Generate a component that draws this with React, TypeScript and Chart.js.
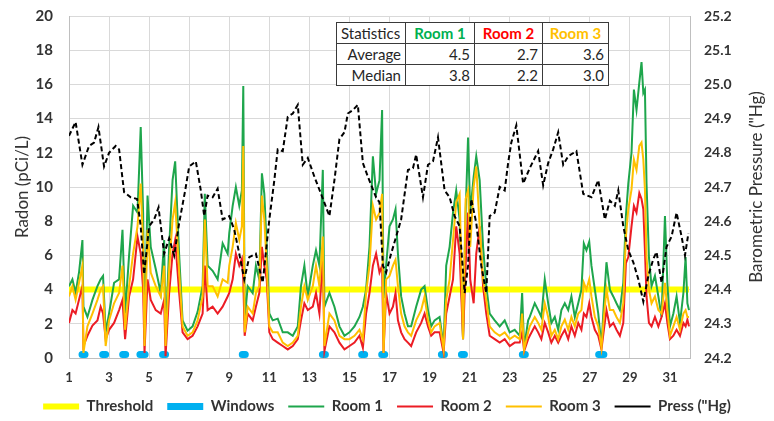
import React, { useEffect, useRef } from 'react';
import { Chart, registerables } from 'chart.js';

Chart.register(...registerables);

// ---------- data ----------
const xTicks = [1, 3, 5, 7, 9, 11, 13, 15, 17, 19, 21, 23, 25, 27, 29, 31];
const radonTicks = [0, 2, 4, 6, 8, 10, 12, 14, 16, 18, 20];
const pressTicks = [24.2, 24.3, 24.4, 24.5, 24.6, 24.7, 24.8, 24.9, 25.0, 25.1, 25.2];

const roomDays = [
  1.0, 1.17, 1.33, 1.5, 1.67, 1.72, 1.92, 2.17, 2.42, 2.58, 2.7, 2.83, 3.0, 3.25, 3.5, 3.67, 3.8, 4.0, 4.2, 4.42,
  4.58, 4.7, 4.77, 4.92, 5.08, 5.33, 5.58, 5.75, 5.82, 6.0, 6.17, 6.3, 6.5, 6.67, 6.92, 7.17, 7.42, 7.67, 7.78, 7.92,
  8.17, 8.42, 8.67, 8.92,
  9.0, 9.17, 9.33, 9.5, 9.63, 9.7, 9.77, 9.92, 10.17, 10.33, 10.5, 10.63, 10.75, 10.87, 11.0, 11.17, 11.42, 11.67,
  11.92, 12.17, 12.42, 12.58, 12.75, 12.92, 13.17, 13.33, 13.5, 13.67, 13.75, 14.0, 14.25, 14.5, 14.75, 15.0, 15.25,
  15.5, 15.67, 15.83, 16.0, 16.17, 16.33, 16.5, 16.63,
  16.7, 16.83, 17.0, 17.17, 17.3, 17.42, 17.58, 17.75, 17.92, 18.08, 18.33, 18.58, 18.75, 18.92, 19.08, 19.25, 19.5,
  19.7, 19.83, 20.0, 20.17, 20.33, 20.5, 20.67, 20.8, 20.92, 21.03, 21.2, 21.33, 21.5, 21.67, 21.83, 22.0, 22.25,
  22.5, 22.75, 23.0, 23.25, 23.5, 23.62, 23.72, 23.92,
  24.0, 24.25, 24.42, 24.58, 24.75, 24.92, 25.08, 25.25, 25.42, 25.58, 25.75, 25.92, 26.08, 26.25, 26.42, 26.58,
  26.7, 26.83, 26.97, 27.08, 27.25, 27.42, 27.58, 27.7, 27.83, 28.0, 28.17, 28.33, 28.5, 28.67, 28.8, 28.92, 29.08,
  29.2, 29.33, 29.47, 29.58, 29.67, 29.75, 29.83, 29.95, 30.08, 30.25, 30.42, 30.58, 30.75, 30.87, 31.0, 31.17,
  31.33, 31.5, 31.67, 31.78, 31.87, 31.95,
];

const room1 = [
  4.2, 4.6, 3.8, 5.0, 6.9, 3.0, 2.4, 3.4, 4.2, 4.6, 4.8, 1.5, 2.6, 4.4, 4.6, 7.5, 2.6, 6.0, 8.9, 8.5,
  13.5, 8.5, 1.1, 9.5, 6.5, 5.2, 3.8, 6.9, 1.1, 6.5, 10.4, 11.5, 6.0, 2.2, 1.6, 1.85, 2.7, 4.2, 9.6, 5.4,
  5.1, 4.6, 6.7, 6.1,
  7.3, 8.9, 10.0, 8.9, 9.8, 15.9, 2.2, 4.2, 3.8, 5.4, 4.6, 10.8, 9.6, 6.5, 2.6, 2.2, 2.3, 1.5,
  1.5, 1.3, 1.85, 4.2, 5.4, 3.6, 5.4, 6.3, 5.4, 11.0, 3.0, 3.8, 3.0, 1.85, 1.3, 1.5, 1.85,
  2.4, 3.0, 4.0, 6.5, 11.8, 9.6, 10.4, 14.5,
  3.5, 5.4, 7.7, 8.1, 8.7, 6.1, 3.6, 2.6, 1.85, 1.85, 3.0, 4.0, 4.2, 2.8, 1.85, 2.2, 2.4,
  0.7, 5.4, 6.5, 8.5, 9.8, 8.1, 1.1, 8.5, 12.9, 8.5, 10.6, 11.8, 10.4, 6.5, 4.2, 2.6, 2.2,
  1.85, 2.2, 1.5, 1.65, 1.3, 3.8, 0.6, 2.2,
  2.4, 3.2, 2.8, 2.4, 4.6, 3.2, 2.05, 2.4, 1.65, 2.8, 3.2, 2.8, 3.6, 2.4, 3.2, 4.0,
  6.7, 6.3, 6.8, 5.4, 4.0, 2.6, 0.7, 3.2, 5.6, 4.0, 3.6, 3.2, 2.8, 4.4, 8.3, 10.2, 12.0,
  15.7, 14.5, 16.1, 17.3, 15.5, 15.7, 10.2, 5.9, 4.2, 4.8, 3.6, 2.4, 8.3, 4.4, 1.85, 2.6,
  3.6, 2.05, 3.8, 5.9, 3.2, 2.8,
];

const room2 = [
  2.05, 2.8, 2.6, 3.4, 4.2, 0.7, 1.3, 1.9, 2.2, 3.0, 2.6, 1.1, 1.65, 2.05, 2.8, 3.4, 1.1, 3.6, 4.6, 7.1,
  6.1, 4.0, 0.3, 4.6, 3.4, 2.8, 2.6, 3.4, 0.1, 3.8, 6.1, 6.9, 3.8, 1.5, 1.1, 1.3, 1.85, 2.6, 5.4, 2.8,
  3.0, 2.6, 3.0, 3.6,
  3.8, 4.6, 6.1, 5.4, 5.8, 4.6, 1.3, 2.6, 2.2, 3.0, 3.8, 6.5, 5.4, 4.6, 1.5, 1.1, 0.9, 0.7,
  0.5, 0.7, 1.1, 2.2, 3.2, 2.8, 3.0, 3.8, 2.6, 6.1, 0.4, 1.85, 1.5, 0.9, 0.5, 0.7, 0.9,
  1.3, 0.6, 2.6, 3.8, 5.4, 6.1, 5.0, 5.4,
  0.3, 3.8, 2.6, 3.0, 3.8, 2.2, 1.5, 1.1, 0.9, 0.7, 1.5, 2.05, 2.6, 1.85, 1.3, 1.5, 1.5,
  0.3, 2.6, 3.6, 4.6, 7.7, 6.1, 1.1, 5.4, 8.5, 4.6, 3.2, 6.1, 7.7, 4.2, 2.6, 1.3, 1.1,
  0.9, 1.1, 0.7, 0.9, 0.9, 1.5, 0.4, 1.1,
  1.3, 1.85, 1.5, 1.1, 2.05, 1.5, 0.9, 1.3, 0.9, 1.3, 1.65, 1.1, 1.85, 1.3, 2.05, 1.65,
  2.6, 2.4, 3.2, 2.4, 1.65, 1.3, 0.5, 1.65, 2.8, 1.85, 2.05, 1.65, 1.3, 2.05, 5.55, 5.9, 7.7,
  8.9, 8.5, 9.65, 9.3, 8.7, 6.3, 3.6, 2.05, 1.85, 2.4, 1.85, 2.4, 3.2, 2.05, 1.1, 1.3,
  1.65, 1.3, 2.05, 1.85, 2.25, 1.85,
];

const room3 = [
  3.6, 4.2, 3.4, 4.4, 5.4, 0.3, 1.85, 2.6, 3.4, 4.0, 4.2, 0.7, 2.2, 3.2, 3.8, 5.4, 1.65, 4.2, 6.1, 7.7,
  10.2, 6.5, 0.7, 7.5, 5.0, 4.2, 3.6, 5.4, 0.7, 5.2, 8.1, 9.1, 5.0, 1.85, 1.3, 1.5, 2.2, 3.6, 8.1, 4.2,
  4.2, 3.6, 4.6, 4.4,
  5.4, 6.5, 7.9, 6.9, 7.7, 12.4, 1.5, 3.0, 2.6, 3.8, 4.2, 9.5, 8.1, 5.4, 1.85, 1.5, 1.5, 0.9,
  0.7, 0.9, 1.3, 3.0, 4.2, 3.4, 4.2, 5.4, 4.2, 7.1, 0.7, 2.6, 2.2, 1.3, 1.1, 1.1, 1.3,
  1.65, 1.1, 3.8, 5.4, 8.9, 8.1, 8.5, 9.6,
  0.3, 4.6, 4.8, 5.4, 5.75, 4.2, 2.6, 1.85, 1.5, 1.3, 2.2, 2.8, 3.6, 2.2, 1.5, 1.85, 2.05,
  0.5, 3.4, 4.6, 6.9, 9.1, 9.6, 1.1, 9.3, 9.8, 6.5, 10.0, 11.2, 7.7, 4.6, 3.4, 1.85, 1.5,
  1.3, 1.5, 1.1, 1.3, 1.1, 2.6, 0.5, 1.5,
  1.85, 2.4, 2.05, 1.65, 3.2, 2.4, 1.3, 1.65, 1.1, 1.85, 2.25, 1.65, 2.4, 1.85, 2.6, 2.8,
  4.4, 4.0, 4.6, 3.6, 2.4, 1.85, 0.6, 2.4, 4.0, 2.8, 2.8, 2.4, 2.05, 3.2, 7.1, 8.7, 9.85,
  11.6, 11.0, 12.4, 12.6, 11.6, 9.85, 5.9, 4.0, 3.2, 3.6, 2.8, 2.6, 4.4, 2.8, 1.3, 1.85,
  2.4, 1.65, 2.6, 2.8, 2.4, 2.4,
];

const pressDays = [
  1.0, 1.33, 1.67, 2.0, 2.25, 2.47, 2.75, 3.0, 3.33, 3.5,
  3.75, 4.08, 4.4, 4.58, 4.75, 5.0, 5.25, 5.47, 5.75, 6.0,
  6.25, 6.5, 6.8, 7.0, 7.33, 7.58, 7.75, 7.92, 8.17, 8.42,
  8.67, 9.0, 9.25, 9.5, 9.75, 10.0, 10.33, 10.67, 11.0, 11.25,
  11.42, 11.67, 11.92, 12.17, 12.42, 12.67, 12.92, 13.25, 13.58, 14.0,
  14.25, 14.5, 14.75, 14.92, 15.17, 15.42, 15.67, 15.92, 16.33, 16.5,
  16.67, 16.83, 17.08, 17.33, 17.58, 17.92, 18.17, 18.33, 18.67, 18.92,
  19.17, 19.42, 19.75, 20.0, 20.25, 20.5, 20.75, 20.92, 21.08, 21.33,
  21.58, 21.83, 22.0, 22.25, 22.5, 22.75, 22.92, 23.08, 23.33, 23.67,
  24.0, 24.42, 24.67, 24.92, 25.17, 25.42, 25.67, 25.92, 26.33, 26.67,
  27.08, 27.42, 27.75, 28.0, 28.25, 28.42, 28.67, 28.92, 29.17, 29.42,
  29.67, 29.92, 30.17, 30.33, 30.58, 30.83, 31.08, 31.33, 31.58, 31.75,
  31.92,
];

const pressure = [
  24.85, 24.89, 24.765, 24.82, 24.83, 24.875, 24.76, 24.8, 24.82, 24.81,
  24.685, 24.67, 24.665, 24.585, 24.445, 24.585, 24.605, 24.64, 24.505, 24.55,
  24.5, 24.595, 24.69, 24.76, 24.775, 24.69, 24.615, 24.675, 24.67, 24.695,
  24.605, 24.615, 24.575, 24.505, 24.43, 24.495, 24.505, 24.42, 24.605, 24.72,
  24.81, 24.805, 24.905, 24.915, 24.94, 24.765, 24.785, 24.73, 24.68, 24.615,
  24.72, 24.84, 24.86, 24.915, 24.925, 24.94, 24.77, 24.73, 24.67, 24.655,
  24.47, 24.45, 24.505, 24.555, 24.605, 24.75, 24.755, 24.795, 24.67, 24.765,
  24.775, 24.845, 24.69, 24.67, 24.615, 24.585, 24.39, 24.47, 24.665, 24.595,
  24.47, 24.39, 24.615, 24.625, 24.7, 24.69, 24.77, 24.83, 24.88, 24.71,
  24.755, 24.805, 24.705, 24.77, 24.81, 24.86, 24.765, 24.79, 24.805, 24.68,
  24.67, 24.72, 24.605, 24.66, 24.645, 24.69, 24.585, 24.515, 24.48, 24.43,
  24.365, 24.44, 24.49, 24.51, 24.42, 24.525, 24.555, 24.625, 24.555, 24.5,
  24.565,
];

const thresholdDays = [1, 31.95];
const thresholdValues = [4, 4];

const windowStarts = [1.65, 2.68, 3.68, 4.54, 5.67, 9.65, 13.65, 15.61, 16.61, 19.59, 20.59, 23.63, 27.44];
const windowEnds = [1.8, 2.83, 3.83, 4.8, 5.82, 9.8, 13.8, 15.76, 16.76, 19.74, 20.74, 23.78, 27.7];
const windowLevel = 0.2;

const statHeaders = ['Statistics', 'Room 1', 'Room 2', 'Room 3'];
const statLabels = ['Average', 'Median'];
const room1Stats = [4.5, 3.8];
const room2Stats = [2.7, 2.2];
const room3Stats = [3.6, 3.0];

const leftTitle = 'Radon (pCi/L)';
const rightTitle = 'Barometric Pressure ("Hg)';

// ---------- styles ----------
const C_ROOM1 = '#1ea64c';
const C_ROOM2 = '#ec1c24';
const C_ROOM3 = '#ffc000';
const C_THRESH = '#ffff00';
const C_WIN = '#00b0f0';
const C_TEXT = '#333333';
const C_GRID = '#d9d9d9';
const FONT = 'Lato, "Open Sans", sans-serif';

const headerColors = ['#262626', '#00b050', '#ff0000', '#ffc000'];

export default function App() {
  const ref = useRef<HTMLCanvasElement | null>(null);

  useEffect(() => {
    document.body.style.margin = '0';
    const canvas = ref.current;
    if (!canvas) return;
    const xy = (xs: number[], ys: number[]) => xs.map((x, i) => ({ x, y: ys[i] }));
    const windowPoints: { x: number; y: number | null }[] = [];
    windowStarts.forEach((s, i) => {
      windowPoints.push({ x: s, y: windowLevel }, { x: windowEnds[i], y: windowLevel }, { x: windowEnds[i], y: null });
    });

    const rightTitlePlugin = {
      id: 'rightTitle',
      afterDraw(chart: any) {
        const { ctx, chartArea } = chart;
        const s = chart.scales.y1;
        ctx.save();
        ctx.translate(s.right - 13, (chartArea.top + chartArea.bottom) / 2);
        ctx.rotate(-Math.PI / 2);
        ctx.font = `17px ${FONT}`;
        ctx.fillStyle = C_TEXT;
        ctx.textAlign = 'center';
        ctx.textBaseline = 'middle';
        ctx.fillText(rightTitle, 0, 0);
        ctx.restore();
      },
    };

    Chart.defaults.font.family = FONT;

    const chart = new Chart(canvas, {
      type: 'line',
      data: {
        datasets: [
          {
            label: 'Threshold',
            data: xy(thresholdDays, thresholdValues),
            borderColor: C_THRESH,
            backgroundColor: C_THRESH,
            borderWidth: 6,
            pointRadius: 0,
            yAxisID: 'y',
            order: 6,
          },
          {
            label: 'Windows',
            data: windowPoints as any,
            borderColor: C_WIN,
            backgroundColor: C_WIN,
            borderWidth: 7,
            borderCapStyle: 'round',
            pointRadius: 0,
            spanGaps: false,
            clip: false as any,
            yAxisID: 'y',
            order: 5,
          },
          {
            label: 'Room 1',
            data: xy(roomDays, room1),
            borderColor: C_ROOM1,
            backgroundColor: C_ROOM1,
            borderWidth: 2,
            pointRadius: 0,
            yAxisID: 'y',
            order: 4,
          },
          {
            label: 'Room 2',
            data: xy(roomDays, room2),
            borderColor: C_ROOM2,
            backgroundColor: C_ROOM2,
            borderWidth: 2,
            pointRadius: 0,
            yAxisID: 'y',
            order: 3,
          },
          {
            label: 'Room 3',
            data: xy(roomDays, room3),
            borderColor: C_ROOM3,
            backgroundColor: C_ROOM3,
            borderWidth: 2,
            pointRadius: 0,
            yAxisID: 'y',
            order: 2,
          },
          {
            label: 'Press ("Hg)',
            data: xy(pressDays, pressure),
            borderColor: '#000000',
            backgroundColor: '#000000',
            borderWidth: 2,
            borderDash: [5, 3],
            pointRadius: 0,
            yAxisID: 'y1',
            order: 1,
          },
        ],
      },
      options: {
        animation: false,
        responsive: false,
        devicePixelRatio: 1,
        events: [],
        layout: { padding: { left: 4, right: 4, top: 16, bottom: -3 } },
        plugins: {
          tooltip: { enabled: false },
          legend: {
            position: 'bottom',
            labels: {
              usePointStyle: true,
              pointStyle: 'line',
              pointStyleWidth: 36,
              padding: 14,
              color: C_TEXT,
              font: { size: 15, weight: 'bold', family: FONT },
              sort: (a: any, b: any) => a.datasetIndex - b.datasetIndex,
            },
          },
        },
        scales: {
          x: {
            type: 'linear',
            min: 1,
            max: 32,
            afterBuildTicks: (s: any) => {
              s.ticks = xTicks.map((v) => ({ value: v }));
            },
            afterFit: (s: any) => {
              s.height = 27;
            },
            ticks: {
              padding: 12,
              autoSkip: false,
              maxRotation: 0,
              color: C_TEXT,
              font: { size: 13, weight: 'bold' },
            },
            grid: { color: C_GRID, drawTicks: false },
            border: { color: '#bfbfbf' },
          },
          y: {
            position: 'left',
            min: 0,
            max: 20,
            afterBuildTicks: (s: any) => {
              s.ticks = radonTicks.map((v) => ({ value: v }));
            },
            afterFit: (s: any) => {
              s.width = 65;
            },
            ticks: {
              padding: 0,
              color: C_TEXT,
              font: { size: 15, weight: 'bold' },
            },
            grid: { color: C_GRID, drawTicks: true, tickLength: 16, tickColor: 'rgba(0,0,0,0)' },
            border: { color: '#bfbfbf' },
            title: {
              display: true,
              text: leftTitle,
              color: C_TEXT,
              font: { size: 17 },
              padding: { top: 8, bottom: 0 },
            },
          },
          y1: {
            position: 'right',
            min: 24.2,
            max: 25.2,
            afterBuildTicks: (s: any) => {
              s.ticks = pressTicks.map((v) => ({ value: v }));
            },
            afterFit: (s: any) => {
              s.width = 80;
            },
            ticks: {
              padding: 0,
              color: C_TEXT,
              font: { size: 14, weight: 'bold' },
              callback: (v: any) => Number(v).toFixed(1),
            },
            grid: { display: true, drawOnChartArea: false, drawTicks: true, tickLength: 14, tickColor: 'rgba(0,0,0,0)' },
            border: { color: '#bfbfbf' },
          },
        },
      } as any,
      plugins: [rightTitlePlugin],
    });
    return () => chart.destroy();
  }, []);

  const colW = [69, 69, 68, 66];
  const cell: React.CSSProperties = {
    border: '1px solid #3a3a3a',
    height: 20,
    padding: '0 4px',
    fontFamily: FONT,
    fontSize: 15,
    lineHeight: '20px',
    whiteSpace: 'nowrap',
    color: '#262626',
  };
  const statCols = [room1Stats, room2Stats, room3Stats];

  return (
    <div style={{ position: 'relative', width: 774, height: 421, background: '#fff' }}>
      <canvas ref={ref} width={774} height={421} style={{ display: 'block', width: 774, height: 421 }} />
      <table
        style={{
          position: 'absolute',
          left: 336,
          top: 22,
          borderCollapse: 'collapse',
          background: '#fff',
          tableLayout: 'fixed',
        }}
      >
        <colgroup>
          {colW.map((w, i) => (
            <col key={i} style={{ width: w }} />
          ))}
        </colgroup>
        <tbody>
          <tr>
            {statHeaders.map((h, i) => (
              <td
                key={h}
                style={{
                  ...cell,
                  textAlign: i === 0 ? 'left' : 'center',
                  fontWeight: i === 0 ? 'normal' : 'bold',
                  color: headerColors[i],
                }}
              >
                {h}
              </td>
            ))}
          </tr>
          {statLabels.map((lab, r) => (
            <tr key={lab}>
              <td style={{ ...cell, textAlign: 'right' }}>{lab}</td>
              {statCols.map((col, c) => (
                <td key={c} style={{ ...cell, textAlign: 'right' }}>
                  {col[r].toFixed(1)}
                </td>
              ))}
            </tr>
          ))}
        </tbody>
      </table>
    </div>
  );
}
